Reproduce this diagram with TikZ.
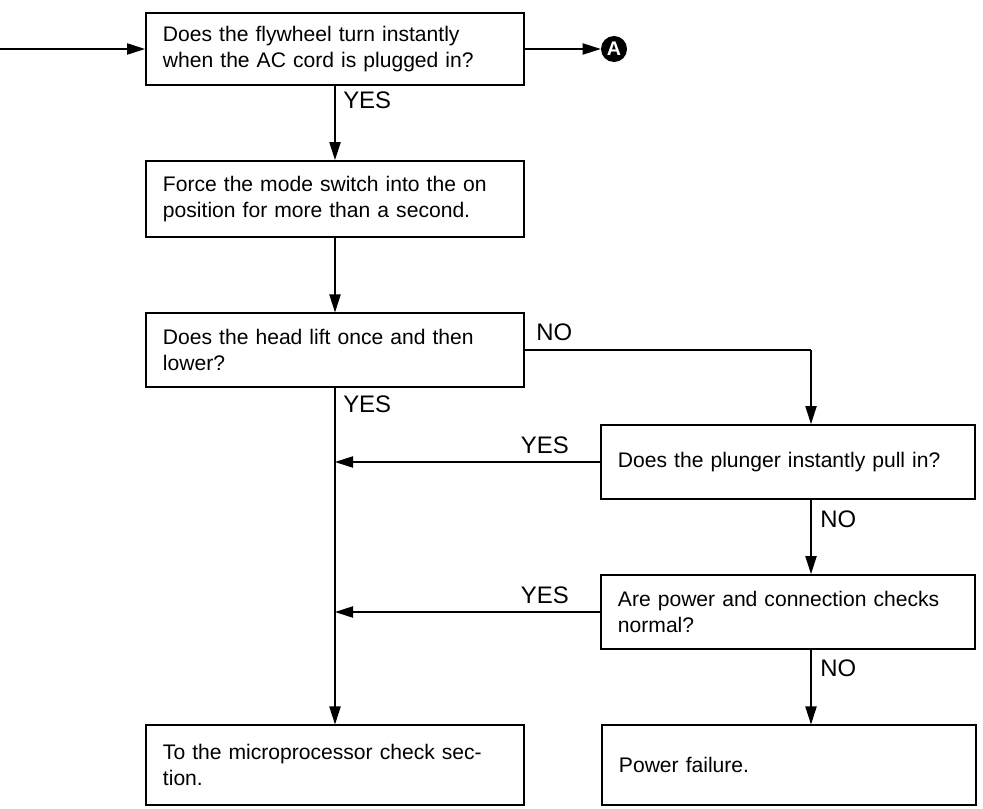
\documentclass[tikz,border=0pt]{standalone}
\usepackage{fontspec}
\setmainfont{Liberation Sans}
\usetikzlibrary{arrows.meta, positioning, calc}

\begin{document}
\begin{tikzpicture}[x=0.025cm, y=-0.025cm, font=\fontsize{15}{19}\selectfont,
    box/.style={draw, line width=1.3pt, rectangle, minimum width=9.45cm, text width=8.6cm, inner xsep=0.425cm, align=left, minimum height=#1},
    box/.default=1.85cm,
    rbox/.style={box=#1, minimum width=9.35cm, text width=8.5cm},
    rbox/.default=1.85cm,
    arr/.style={line width=1pt, -{Triangle[length=0.45cm, width=0.28cm]}},
    lbl/.style={inner sep=0pt, font=\fontsize{17}{19}\selectfont}]
    \useasboundingbox (0,0) rectangle (983,808);

    % --- Left column ---
    \node[box=1.8cm] (q1) at (335,49) {Does the flywheel turn instantly\\when the AC cord is plugged in?};
    \node[box=1.9cm] (force) at (335,199) {Force the mode switch into the on\\position for more than a second.};
    \node[box=1.83cm] (q2) at (335,350) {Does the head lift once and then\\lower?};
    \node[box=1.98cm] (micro) at (335,765) {To the microprocessor check sec-\\tion.};

    % --- Right column ---
    \node[rbox] (q3) at (788,462) {Does the plunger instantly pull in?};
    \node[rbox] (q4) at (788,612) {Are power and connection checks\\normal?};
    \node[rbox=1.98cm] (fail) at (789,765) {Power failure.};

    % --- Entry and exit ---
    \coordinate (in) at (0,49);
    \node[circle, fill=black, text=white, inner sep=0pt, minimum size=0.65cm, font=\fontsize{14}{14}\selectfont\bfseries] (A) at (614,49) {A};
    \draw[arr] (in) -- (q1.west);
    \draw[arr] (q1.east) -- (A.west);

    % --- Main line ---
    \draw[arr] (q1.south) -- (force.north);
    \draw[arr] (force.south) -- (q2.north);
    \draw[arr] (q2.south) -- (micro.north);
    \node[lbl, anchor=west] (yes1) at (343,100) {YES};
    \node[lbl, anchor=west] (yes2) at (343,404) {YES};

    % --- NO branch ---
    \coordinate (nc) at (811,350);
    \draw[line width=1pt] (q2.east) -- (nc);
    \draw[arr] (nc) -- (nc |- q3.north);
    \draw[arr] (q3.south -| nc) -- (nc |- q4.north);
    \draw[arr] (q4.south -| nc) -- (nc |- fail.north);
    \node[lbl, anchor=west] (no1) at (536,332) {NO};
    \node[lbl, anchor=west] (no2) at (820,519) {NO};
    \node[lbl, anchor=west] (no3) at (820,668) {NO};

    % --- YES returns ---
    \draw[arr] (q3.west) -- (q3.west -| q2.south);
    \draw[arr] (q4.west) -- (q4.west -| q2.south);
    \node[lbl, anchor=east] (yes3) at (569,445) {YES};
    \node[lbl, anchor=east] (yes4) at (569,595) {YES};
\end{tikzpicture}
\end{document}
